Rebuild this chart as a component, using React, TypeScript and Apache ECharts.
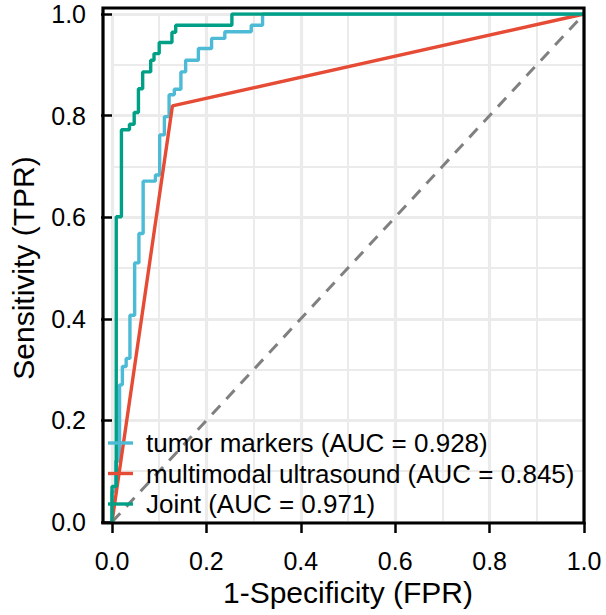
import React, { useEffect, useRef } from "react";
import * as echarts from "echarts";

const seriesNames = [
  "tumor markers (AUC = 0.928)",
  "multimodal ultrasound (AUC = 0.845)",
  "Joint (AUC = 0.971)",
];
const colors = ["#4DBBD5", "#E64B35", "#00A087"];

// tumor markers ROC (FPR, TPR)
const tumorFPR = [0, 0, 0.008, 0.008, 0.016, 0.016, 0.022, 0.022, 0.030, 0.030, 0.038, 0.038, 0.048, 0.048, 0.057, 0.057, 0.066, 0.066, 0.092, 0.092, 0.101, 0.101, 0.111, 0.111, 0.121, 0.121, 0.132, 0.132, 0.146, 0.146, 0.156, 0.156, 0.183, 0.183, 0.211, 0.211, 0.239, 0.239, 0.295, 0.295, 0.319, 0.319, 1];
const tumorTPR = [0, 0.06, 0.06, 0.12, 0.12, 0.27, 0.27, 0.306, 0.306, 0.322, 0.322, 0.407, 0.407, 0.510, 0.510, 0.568, 0.568, 0.671, 0.671, 0.683, 0.683, 0.762, 0.762, 0.798, 0.798, 0.841, 0.841, 0.852, 0.852, 0.886, 0.886, 0.909, 0.909, 0.932, 0.932, 0.952, 0.952, 0.965, 0.965, 0.978, 0.978, 1, 1];

// multimodal ultrasound ROC
const usFPR = [0, 0.128, 1];
const usTPR = [0, 0.819, 1];

// Joint ROC
const jointFPR = [0, 0, 0.009, 0.009, 0.020, 0.020, 0.037, 0.037, 0.047, 0.047, 0.056, 0.056, 0.065, 0.065, 0.082, 0.082, 0.089, 0.089, 0.100, 0.100, 0.127, 0.127, 0.135, 0.135, 0.254, 0.254, 1];
const jointTPR = [0, 0.07, 0.07, 0.601, 0.601, 0.772, 0.772, 0.783, 0.783, 0.806, 0.806, 0.853, 0.853, 0.886, 0.886, 0.909, 0.909, 0.922, 0.922, 0.944, 0.944, 0.964, 0.964, 0.978, 0.978, 1, 1];

const refFPR = [0, 1];
const refTPR = [0, 1];

const zip = (a: number[], b: number[]) => a.map((v, i) => [v, b[i]]);

const FONT = "'Liberation Sans', Arial, Helvetica, sans-serif";

export default function App() {
  const ref = useRef<HTMLDivElement>(null);
  useEffect(() => {
    if (!ref.current) return;
    const chart = echarts.init(ref.current, undefined, { renderer: "svg" });
    const gridColor = "#EBEBEB";
    const axisCommon = {
      type: "value",
      min: 0,
      max: 1,
      interval: 0.2,
      axisLine: { show: false },
      axisTick: { show: true, length: 11, lineStyle: { color: "#000", width: 2.5 } },
      axisLabel: {
        color: "#000",
        fontSize: 25,
        fontFamily: FONT,
        formatter: (v: number) => v.toFixed(1),
      },
      splitLine: { show: true, lineStyle: { color: gridColor, width: 3.2 } },
      minorTick: { show: false, splitNumber: 2 },
      minorSplitLine: { show: true, lineStyle: { color: gridColor, width: 2 } },
      nameLocation: "middle",
      nameTextStyle: { color: "#000", fontSize: 30, fontFamily: FONT },
    };
    const lineSeries = (name: string, data: number[][], color: string) => ({
      name,
      type: "line",
      data,
      showSymbol: false,
      symbol: "none",
      lineStyle: { color, width: 3.4 },
      itemStyle: { color },
    });
    chart.setOption({
      animation: false,
      backgroundColor: "#fff",
      grid: { left: 108, right: 22, top: 14, bottom: 93, containLabel: false },
      xAxis: {
        ...axisCommon,
        offset: 1,
        name: "1-Specificity (FPR)",
        nameGap: 54,
        axisLabel: { ...axisCommon.axisLabel, margin: 25 },
      },
      yAxis: {
        ...axisCommon,
        offset: 5,
        name: "Sensitivity (TPR)",
        nameGap: 69,
        axisLabel: { ...axisCommon.axisLabel, margin: 21 },
      },
      legend: {
        orient: "vertical",
        left: 108,
        top: 430,
        padding: 0,
        itemGap: 4.5,
        itemWidth: 25,
        itemHeight: 3.4,
        icon: "rect",
        selectedMode: false,
        data: seriesNames,
        textStyle: { color: "#000", fontSize: 26, fontFamily: FONT, padding: [0, 0, 0, 8] },
      },
      series: [
        {
          name: "ref",
          type: "line",
          data: zip(refFPR, refTPR),
          showSymbol: false,
          symbol: "none",
          lineStyle: { color: "#808080", width: 3, type: [12, 9] },
          silent: true,
        },
        lineSeries(seriesNames[0], zip(tumorFPR, tumorTPR), colors[0]),
        lineSeries(seriesNames[1], zip(usFPR, usTPR), colors[1]),
        lineSeries(seriesNames[2], zip(jointFPR, jointTPR), colors[2]),
      ],
      graphic: [
        {
          type: "rect",
          shape: { x: 103, y: 8, width: 481, height: 515 },
          style: { fill: "none", stroke: "#000", lineWidth: 3.2 },
          z: 100,
          silent: true,
        },
      ],
    });
    return () => chart.dispose();
  }, []);
  return (
    <div
      ref={ref}
      style={{ position: "fixed", left: 0, top: 0, width: 606, height: 615, background: "#fff" }}
    />
  );
}
